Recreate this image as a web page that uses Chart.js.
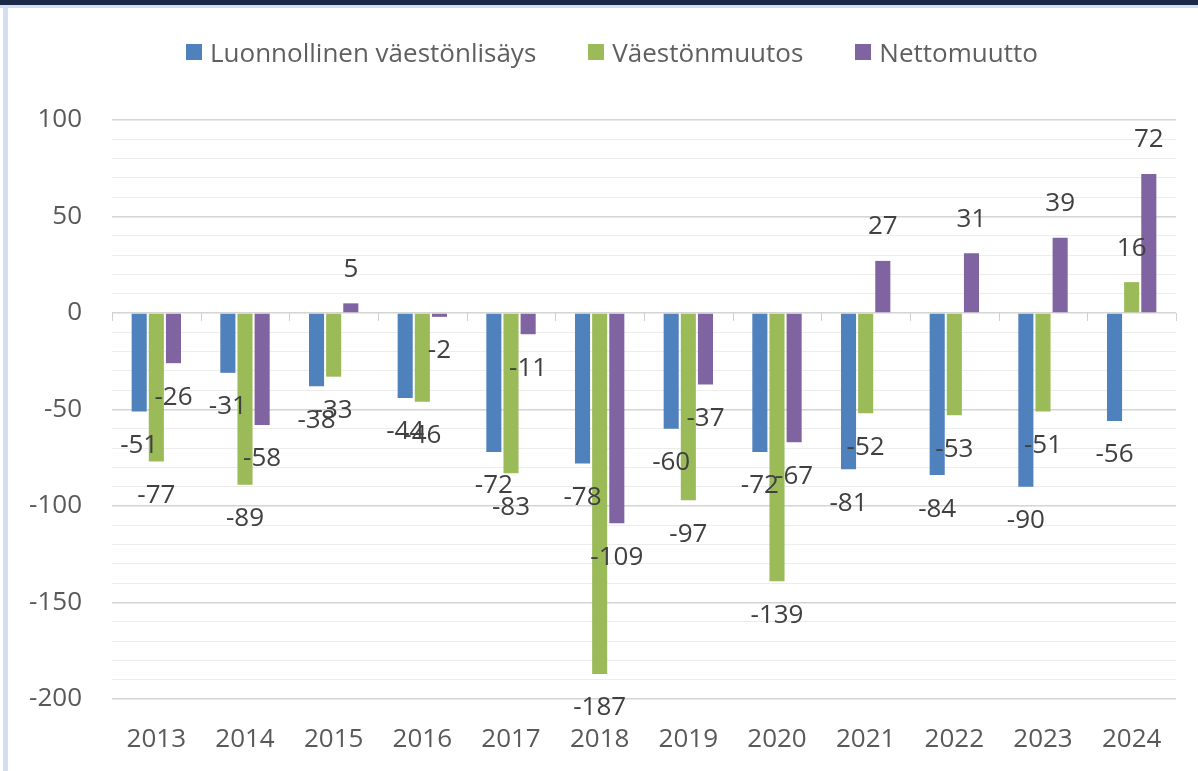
<!DOCTYPE html>
<html>
<head>
<meta charset="utf-8">
<title>Väestönmuutos 2013-2024</title>
<script src="https://cdn.jsdelivr.net/npm/chart.js@4/dist/chart.umd.min.js"></script>
<style>
	body{margin:0;background:#fff;font-family:"Open Sans",sans-serif;}
	#wrap{position:relative;width:1198px;height:771px;overflow:hidden;}
	#chart{position:absolute;left:0;top:0;}
	#topBar{position:absolute;left:0;top:0;width:1198px;height:5px;background:#1b2a47;}
	#topLine{position:absolute;left:0;top:5px;width:1198px;height:3px;background:#d3def0;}
	#leftLine{position:absolute;left:3px;top:5px;width:5px;height:766px;background:#d3def0;}
	#legend{position:absolute;left:186px;top:34px;display:flex;align-items:center;font-size:26px;color:#5f5f5f;}
	.legendItem{display:flex;align-items:center;margin-right:52px;white-space:nowrap;}
	.legendItem:last-child{margin-right:0;}
	.legendBox{width:16px;height:16px;margin-right:8px;}
</style>
</head>
<body>
<div id="wrap">
	<canvas id="chart" width="1198" height="771"></canvas>
	<div id="topBar"></div>
	<div id="topLine"></div>
	<div id="leftLine"></div>
	<div id="legend"></div>
</div>
<script>
var years = ['2013', '2014', '2015', '2016', '2017', '2018', '2019', '2020', '2021', '2022', '2023', '2024'];
var luonnollinen = [-51, -31, -38, -44, -72, -78, -60, -72, -81, -84, -90, -56];
var vaestonmuutos = [-77, -89, -33, -46, -83, -187, -97, -139, -52, -53, -51, 16];
var nettomuutto = [-26, -58, 5, -2, -11, -109, -37, -67, 27, 31, 39, 72];
var seriesNames = ['Luonnollinen väestönlisäys', 'Väestönmuutos', 'Nettomuutto'];
var seriesColors = ['#4f81bd', '#9bbb59', '#8064a2'];

var fontFamily = '"Open Sans", sans-serif';

// legend as html, spacing copied from the excel picture
var legendDiv = document.getElementById('legend');
seriesNames.forEach(function(name, i){
	var item = document.createElement('div');
	item.classList.add('legendItem');
	var box = document.createElement('div');
	box.classList.add('legendBox');
	box.style.background = seriesColors[i];
	item.appendChild(box);
	item.appendChild(document.createTextNode(name));
	legendDiv.appendChild(item);
});

var barLabels = {
	id: 'barLabels',
	afterDatasetsDraw: function(chart){
		var ctx = chart.ctx;
		ctx.save();
		ctx.font = '26px ' + fontFamily;
		ctx.fillStyle = '#404040';
		ctx.textAlign = 'center';
		ctx.textBaseline = 'middle';
		chart.data.datasets.forEach(function(ds, i){
			var meta = chart.getDatasetMeta(i);
			meta.data.forEach(function(bar, j){
				var v = ds.data[j];
				var y = v < 0 ? bar.y + 34 : bar.y - 34;
				ctx.fillText(String(v), bar.x, y);
			});
		});
		ctx.restore();
	}
};

// small tick marks hanging under the zero line, between categories
var zeroTicks = {
	id: 'zeroTicks',
	afterDraw: function(chart){
		var ctx = chart.ctx;
		var x = chart.scales.x;
		var y0 = chart.scales.y.getPixelForValue(0);
		var step = (x.right - x.left) / years.length;
		ctx.save();
		ctx.strokeStyle = '#d0d0d0';
		ctx.lineWidth = 1;
		ctx.beginPath();
		for(var i = 0; i <= years.length; i++){
			var px = Math.round(x.left + step * i) + 0.5;
			ctx.moveTo(px, y0);
			ctx.lineTo(px, y0 + 8);
		}
		ctx.stroke();
		ctx.restore();
	}
};

var myChart = new Chart(document.getElementById('chart'), {
	type: 'bar',
	data: {
		labels: years,
		datasets: seriesNames.map(function(name, i){
			return {
				label: name,
				data: [luonnollinen, vaestonmuutos, nettomuutto][i],
				backgroundColor: seriesColors[i],
				borderWidth: 0,
				categoryPercentage: 0.58,
				barPercentage: 0.88
			};
		})
	},
	options: {
		responsive: false,
		animation: false,
		layout: {padding: {top: 120, right: 22, bottom: 0, left: 0}},
		plugins: {
			legend: {display: false},
			tooltip: {enabled: false}
		},
		scales: {
			x: {
				grid: {display: false},
				border: {display: false},
				ticks: {
					color: '#595959',
					padding: 17,
					font: {family: fontFamily, size: 26}
				},
				afterFit: function(scale){ scale.height = 72; }
			},
			y: {
				min: -200,
				max: 100,
				border: {display: false},
				grid: {
					drawTicks: false,
					color: function(c){
						return c.tick.value % 50 === 0 ? '#d4d4d4' : '#ececec';
					},
					lineWidth: function(c){
						return c.tick.value % 50 === 0 ? 1.5 : 1;
					}
				},
				ticks: {
					stepSize: 10,
					autoSkip: false,
					color: '#595959',
					padding: 30,
					font: {family: fontFamily, size: 26},
					callback: function(v){
						return v % 50 === 0 ? v : '';
					}
				},
				afterFit: function(scale){ scale.width = 112; }
			}
		}
	},
	plugins: [barLabels, zeroTicks]
});
</script>
</body>
</html>
